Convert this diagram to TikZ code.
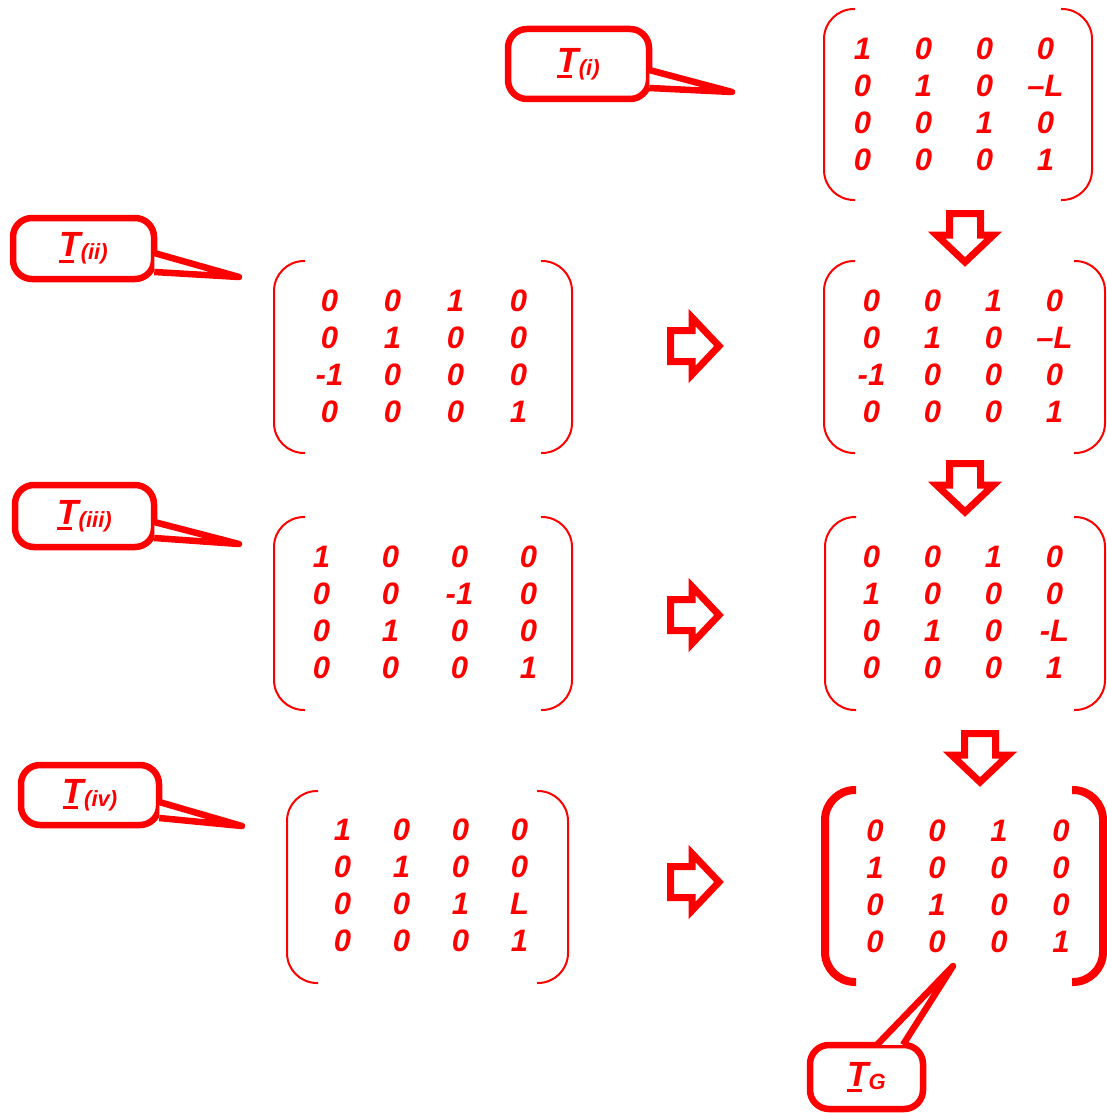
\documentclass[tikz,border=0pt]{standalone}
\usepackage{fontspec}
\setmainfont{Liberation Sans}
\usetikzlibrary{matrix,calc}
\definecolor{tred}{RGB}{255,0,0}
\newcommand{\ulT}{\rlap{\rule[-6pt]{15pt}{3pt}}T}
\newcommand{\tlab}[1]{\ulT\raisebox{-3pt}{\fontsize{22}{24}\selectfont #1}}
% round brackets: left x, right x, top y, bottom y
\newcommand{\parens}[5][]{%
  \draw[bracket,#1] (#2+31,#4) -- (#2,#4) -- (#2,#5) -- (#2+31,#5);
  \draw[bracket,#1] (#3-31,#4) -- (#3,#4) -- (#3,#5) -- (#3-31,#5);}
\newcommand{\arrdown}[1]{\draw[blockarr] (#1) +(-15.5,3.5) -- +(-15.5,25) -- +(-28.5,25) -- +(0,52) -- +(28.5,25) -- +(15.5,25) -- +(15.5,3.5) -- cycle;}
\newcommand{\arrright}[1]{\draw[blockarr] (#1) +(3.5,-15.5) -- +(25,-15.5) -- +(25,-28.5) -- +(52,0) -- +(25,28.5) -- +(25,15.5) -- +(3.5,15.5) -- cycle;}

\begin{document}
\begin{tikzpicture}[x=1pt,y=-1pt,
  cell/.style={minimum width=40pt, inner sep=0pt, text height=22pt, text depth=0pt,
    text=tred, font=\fontsize{31}{36}\selectfont\bfseries\itshape},
  mat/.style={matrix of nodes, inner sep=0pt, row sep=15pt, nodes={cell}},
  bracket/.style={draw=tred, line width=2pt, rounded corners=30pt},
  blockarr/.style={draw=tred, fill=white, line width=7pt, line join=miter},
  callout/.style={draw=tred, fill=white, line width=6.5pt, rounded corners=19pt, inner sep=0pt,
    text=tred, font=\fontsize{35}{40}\selectfont\bfseries\itshape},
  tail/.style={draw=tred, fill=white, line width=6.5pt, line join=round}]
\useasboundingbox (0,0) rectangle (1107,1113);

% left column: the four factors
\matrix (mii) [mat, column sep=23pt] at (424,355.5) {
0 & 0 & 1 & 0 \\
0 & 1 & 0 & 0 \\
-1 & 0 & 0 & 0 \\
0 & 0 & 0 & 1 \\};
\parens{274}{572}{261}{453}
\matrix (miii) [mat, column sep=29pt] at (425,612) {
1 & 0 & 0 & 0 \\
0 & 0 & -1 & 0 \\
0 & 1 & 0 & 0 \\
0 & 0 & 0 & 1 \\};
\parens{274}{572}{517}{710}
\matrix (miv) [mat, column sep=19pt] at (431,885) {
1 & 0 & 0 & 0 \\
0 & 1 & 0 & 0 \\
0 & 0 & 1 & L \\
0 & 0 & 0 & 1 \\};
\parens{287}{568}{791}{983}

% right column: running products
\matrix (mi) [mat, column sep=21pt] at (954,104) {
1 & 0 & 0 & 0 \\
0 & 1 & 0 & –L \\
0 & 0 & 1 & 0 \\
0 & 0 & 0 & 1 \\};
\parens{824}{1092}{9}{200}
\matrix (pii) [mat, column sep=21pt] at (963,355.5) {
0 & 0 & 1 & 0 \\
0 & 1 & 0 & –L \\
-1 & 0 & 0 & 0 \\
0 & 0 & 0 & 1 \\};
\parens{824}{1105}{261}{453}
\matrix (piii) [mat, column sep=21pt] at (963,612) {
0 & 0 & 1 & 0 \\
1 & 0 & 0 & 0 \\
0 & 1 & 0 & -L \\
0 & 0 & 0 & 1 \\};
\parens{825}{1105}{517}{710}
\matrix (mg) [mat, column sep=22pt] at (968,886) {
0 & 0 & 1 & 0 \\
1 & 0 & 0 & 0 \\
0 & 1 & 0 & 0 \\
0 & 0 & 0 & 1 \\};
\parens[line width=8pt]{825}{1103}{790}{982}

% block arrows
\coordinate (d1) at (965,210);
\coordinate (d2) at (965,460);
\coordinate (d3) at (980,730);
\arrdown{d1}
\arrdown{d2}
\arrdown{d3}
\coordinate (r2) at (667,346);
\coordinate (r3) at (667,615);
\coordinate (r4) at (667,882);
\arrright{r2}
\arrright{r3}
\arrright{r4}

% callouts
\coordinate (ti) at (732,92);
\coordinate (tii) at (239,277);
\coordinate (tiii) at (239,544);
\coordinate (tiv) at (242,826);
\coordinate (tg) at (953,966);
\node[callout, minimum width=141pt, minimum height=70pt] (ci) at (578.5,64) {\tlab{(i)}};
\filldraw[tail] ($(ci.east)+(-3,6)$) -- (ti) -- ($(ci.east)+(-3,24)$);
\node[callout, minimum width=141pt, minimum height=61pt] (cii) at (83.5,248.5) {\tlab{(ii)}};
\filldraw[tail] ($(cii.east)+(-3,4.5)$) -- (tii) -- ($(cii.east)+(-3,23.5)$);
\node[callout, minimum width=139pt, minimum height=62pt] (ciii) at (84.5,516) {\tlab{(iii)}};
\filldraw[tail] ($(ciii.east)+(-3,6)$) -- (tiii) -- ($(ciii.east)+(-3,22)$);
\node[callout, minimum width=138pt, minimum height=60pt] (civ) at (90,795) {\tlab{(iv)}};
\filldraw[tail] ($(civ.east)+(-3,7)$) -- (tiv) -- ($(civ.east)+(-3,23)$);
\node[callout, minimum width=113pt, minimum height=64pt] (cg) at (866.5,1077) {\tlab{G}};
\filldraw[tail] ($(cg.north)+(10.5,3)$) -- (tg) -- ($(cg.north)+(36.5,3)$);
\end{tikzpicture}
\end{document}
